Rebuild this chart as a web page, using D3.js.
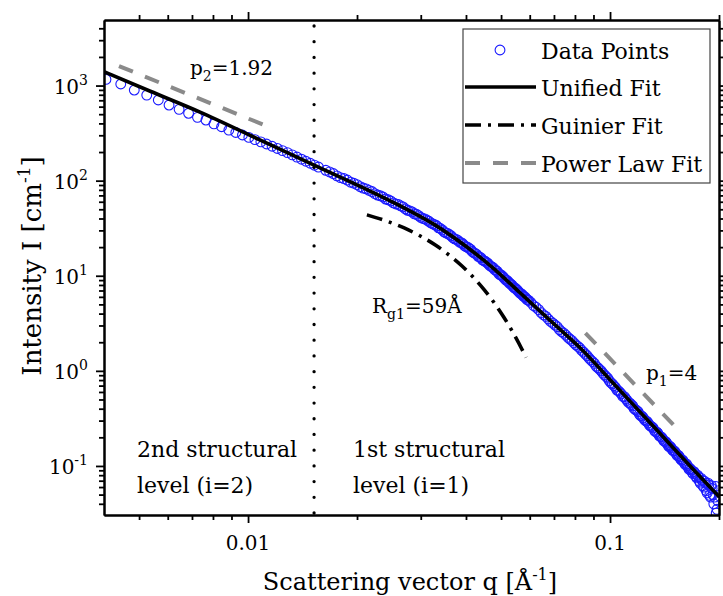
<!DOCTYPE html>
<html><head><meta charset="utf-8">
<script src="https://cdn.jsdelivr.net/npm/d3@7"></script>
<style>
body{margin:0;background:#fff}
svg{display:block}
text{font-family:'DejaVu Serif',serif;fill:#000}
</style>
</head><body>
<svg id="c" width="723" height="596"></svg>
<script>
// ---------- data ----------
const dataQ = [0.00405,0.00445,0.00485,0.00525,0.00565,0.00605,0.00645,0.00685,0.00725,0.00765,0.00805,0.00845,0.00885,0.00925,0.00965,0.01005,0.01045,0.01085,0.01125,0.01165,0.01205,0.01245,0.01285,0.01325,0.01365,0.01405,0.01445,0.01485,0.01525,0.01565,
0.0164,0.0172,0.018,0.0188,0.0196,0.0204,0.0212,0.022,0.0228,0.0236,0.0244,0.0252,0.026,0.0268,0.0276,0.0284,0.0292,0.03,0.0308,0.0316,0.0324,0.0332,0.034,0.0348,0.0356,0.0364,0.0372,0.038,0.0388,0.0396,0.0404,0.0412,0.042,0.0428,0.0436,0.0444,0.0452,0.046,0.0468,0.0476,0.0484,0.0492,0.05,0.0508,0.0516,0.0524,0.0532,0.054,0.0548,0.0556,0.0564,0.0572,0.058,0.0588,0.0596,
0.0168,0.0176,0.0184,0.0192,0.02,0.0208,0.0216,0.0224,0.0232,0.024,0.0248,0.0256,0.0264,0.0272,0.028,0.0288,0.0296,0.0304,0.0312,0.032,0.0328,0.0336,0.0344,0.0352,0.036,0.0368,0.0376,0.0384,0.0392,0.04,0.0408,0.0416,0.0424,0.0432,0.044,0.0448,0.0456,0.0464,0.0472,0.048,0.0488,0.0496,0.0504,0.0512,0.052,0.0528,0.0536,0.0544,0.0552,0.056,0.0568,0.0576,0.0584,0.0592,0.0604,
0.0615,0.0635,0.0655,0.0675,0.0695,0.0715,0.0735,0.0755,0.0775,0.0795,0.0815,0.0835,0.0855,0.0875,0.0895,0.0915,0.0935,0.0955,0.0975,0.0995,0.1015,0.1035,0.1055,0.1075,0.1095,0.1115,0.1135,0.1155,0.1175,0.1195,0.1215,0.1235,0.1255,0.1275,0.1295,0.1315,0.1335,0.1355,0.1375,0.1395,0.1415,0.1435,0.1455,0.1475,0.1495,0.1515,0.1535,0.1555,0.1575,0.1595,0.1615,0.1635,0.1655,0.1675,0.1695,0.1715,0.1735,0.1755,0.1775,0.1795,0.1815,0.1835,0.1855,0.1875,0.1895,0.1915,0.1935,0.1955,0.1975,0.1995,
0.0625,0.0645,0.0665,0.0685,0.0705,0.0725,0.0745,0.0765,0.0785,0.0805,0.0825,0.0845,0.0865,0.0885,0.0905,0.0925,0.0945,0.0965,0.0985,0.1005,0.1025,0.1045,0.1065,0.1085,0.1105,0.1125,0.1145,0.1165,0.1185,0.1205,0.1225,0.1245,0.1265,0.1285,0.1305,0.1325,0.1345,0.1365,0.1385,0.1405,0.1425,0.1445,0.1465,0.1485,0.1505,0.1525,0.1545,0.1565,0.1585,0.1605,0.1625,0.1645,0.1665,0.1685,0.1705,0.1725,0.1745,0.1765,0.1785,0.1805,0.1825,0.1845,0.1865,0.1885,0.1905,
0.1925,0.1945,0.1965,0.1985];
const dataI = [1161,1038,897,794,705,624,562,511,463,434,396,369,340,321,302,285,270,256,243,230,218,207,197,186.5,177,168,160,152.4,145.4,139,
128.5,118.8,107.6,101.5,93.9,86.4,81.9,76.8,70.6,67.3,62.9,58.4,56.3,52.9,48.8,46.9,44.3,41.1,39.6,37.4,35.0,33.5,31.4,29.0,27.9,26.3,24.4,23.5,22.3,20.7,20.0,18.9,17.5,16.8,15.8,14.7,14.2,13.5,12.6,12.1,11.4,10.6,10.2,9.63,9.00,8.65,8.18,7.66,7.38,6.99,6.56,6.34,6.04,5.68,5.50,
123.5,112.4,105.2,96.3,90.8,83.6,79.1,73.0,69.3,64.1,61.1,56.9,54.3,50.4,48.1,44.8,42.9,40.0,38.4,36.0,34.4,31.9,30.4,28.2,27.0,25.1,24.1,22.5,21.7,20.2,19.4,18.0,17.2,16.0,15.4,14.4,13.8,12.9,12.4,11.6,11.1,10.3,9.90,9.26,8.87,8.31,7.96,7.47,7.17,6.75,6.48,6.12,5.89,5.56,5.25,
4.86,4.40,3.88,3.51,3.17,2.91,2.58,2.37,2.16,1.97,1.81,1.64,1.50,1.36,1.25,1.12,1.04,0.948,0.872,0.79,0.728,0.672,0.618,0.571,0.535,0.489,0.457,0.428,0.392,0.372,0.338,0.322,0.298,0.283,0.262,0.251,0.229,0.221,0.204,0.195,0.181,0.174,0.160,0.156,0.144,0.139,0.128,0.125,0.115,0.112,0.103,0.101,0.092,0.091,0.083,0.084,0.075,0.077,0.066,0.071,0.060,0.066,0.052,0.063,0.047,0.058,0.040,0.061,0.035,0.055,
4.66,4.10,3.74,3.31,3.03,2.71,2.49,2.25,2.08,1.88,1.74,1.57,1.44,1.30,1.20,1.08,1.00,0.905,0.840,0.752,0.697,0.628,0.594,0.538,0.511,0.465,0.441,0.402,0.383,0.350,0.334,0.306,0.294,0.268,0.258,0.237,0.228,0.210,0.202,0.186,0.180,0.166,0.161,0.148,0.144,0.133,0.129,0.119,0.116,0.107,0.105,0.096,0.094,0.086,0.087,0.078,0.080,0.069,0.074,0.062,0.069,0.055,0.066,0.049,0.062,
0.050,0.047,0.032,0.043];

const unifiedQ = [0.004,0.00537,0.007369,0.0107,0.01522,0.02133,0.02632,0.03247,0.0403,0.04755,0.05649,0.06839,0.08277,0.1021,0.1292,0.1777,0.2005];
const unifiedI = [1396,871,526,272,145.9,80.4,54.3,35.1,19.95,12.05,6.58,3.37,1.738,0.741,0.2825,0.0764,0.0471];

const guinierQ = [0.0213,0.024,0.027,0.03,0.033,0.036,0.039,0.042,0.045,0.048,0.051,0.054,0.057,0.0586];
const guinierI = [43.7,37.9,31.8,26.0,20.9,16.4,12.67,9.55,7.06,5.11,3.62,2.51,1.71,1.38];

const power2Q = [0.0044,0.0118];
const power2I = [1603,349];
const power1Q = [0.0855,0.1564];
const power1I = [2.50,0.227];

const boundaryQ = [0.01522];

const xMajor = [0.01,0.1];
const xMajorLabels = ["0.01","0.1"];
const xMinor = [0.005,0.006,0.007,0.008,0.009,0.02,0.03,0.04,0.05,0.06,0.07,0.08,0.09,0.2];
const yMajor = [0.1,1,10,100,1000];
const yExponents = ["-1","0","1","2","3"];
const yMinor = [0.04,0.05,0.06,0.07,0.08,0.09,0.2,0.3,0.4,0.5,0.6,0.7,0.8,0.9,2,3,4,5,6,7,8,9,20,30,40,50,60,70,80,90,200,300,400,500,600,700,800,900,2000,3000,4000];

const legendItems = ["Data Points","Unified Fit","Guinier Fit","Power Law Fit"];

// ---------- layout ----------
const L=104, R=719, T=20, B=515;
const svg = d3.select("#c");
const x = d3.scaleLog().domain([0.004,0.2]).range([L,R]);
const y = d3.scaleLog().domain([0.0305,4890]).range([B,T]);

svg.append("defs").append("clipPath").attr("id","clip")
  .append("rect").attr("x",L).attr("y",T).attr("width",R-L).attr("height",B-T);

const plot = svg.append("g").attr("clip-path","url(#clip)");

// data points
plot.append("g").selectAll("circle").data(dataQ.map((q,i)=>[q,dataI[i]])).join("circle")
  .attr("cx",d=>x(d[0])).attr("cy",d=>y(d[1])).attr("r",4.9)
  .attr("fill","none").attr("stroke","#1a1aff").attr("stroke-width",1.1);

const line = d3.line().x(d=>x(d[0])).y(d=>y(d[1]));
const lineSmooth = d3.line().x(d=>x(d[0])).y(d=>y(d[1])).curve(d3.curveMonotoneX);

// power laws
plot.append("path").datum(power2Q.map((q,i)=>[q,power2I[i]])).attr("d",line)
  .attr("fill","none").attr("stroke","#8a8a8a").attr("stroke-width",4).attr("stroke-dasharray","15 13");
plot.append("path").datum(power1Q.map((q,i)=>[q,power1I[i]])).attr("d",line)
  .attr("fill","none").attr("stroke","#8a8a8a").attr("stroke-width",4).attr("stroke-dasharray","15 13");

// unified fit
plot.append("path").datum(unifiedQ.map((q,i)=>[q,unifiedI[i]])).attr("d",lineSmooth)
  .attr("fill","none").attr("stroke","#000").attr("stroke-width",3.6);

// guinier fit
plot.append("path").datum(guinierQ.map((q,i)=>[q,guinierI[i]])).attr("d",lineSmooth)
  .attr("fill","none").attr("stroke","#000").attr("stroke-width",3.6).attr("stroke-dasharray","16 7 3 7");

// boundary dotted line
svg.append("line").attr("x1",x(boundaryQ[0])).attr("x2",x(boundaryQ[0]))
  .attr("y1",26).attr("y2",B).attr("stroke","#000").attr("stroke-width",3.3)
  .attr("stroke-linecap","round").attr("stroke-dasharray","0.01 15.7");

// ---------- axes ----------
function styleAxis(g){
  g.select(".domain").attr("stroke-width",2);
  g.selectAll(".tick line").attr("stroke-width",1.8);
  g.selectAll(".tick text").remove();
}
svg.append("g").attr("transform",`translate(0,${B})`).call(d3.axisBottom(x).tickValues(xMajor).tickSize(8).tickSizeOuter(0).tickFormat("")).call(styleAxis);
svg.append("g").attr("transform",`translate(0,${B})`).call(d3.axisBottom(x).tickValues(xMinor).tickSize(5).tickSizeOuter(0).tickFormat("")).call(styleAxis);
svg.append("g").attr("transform",`translate(0,${T})`).call(d3.axisTop(x).tickValues(xMajor).tickSize(8).tickSizeOuter(0).tickFormat("")).call(styleAxis);
svg.append("g").attr("transform",`translate(0,${T})`).call(d3.axisTop(x).tickValues(xMinor).tickSize(5).tickSizeOuter(0).tickFormat("")).call(styleAxis);
svg.append("g").attr("transform",`translate(${L},0)`).call(d3.axisLeft(y).tickValues(yMajor).tickSize(8).tickSizeOuter(0).tickFormat("")).call(styleAxis);
svg.append("g").attr("transform",`translate(${L},0)`).call(d3.axisLeft(y).tickValues(yMinor).tickSize(5).tickSizeOuter(0).tickFormat("")).call(styleAxis);
svg.append("g").attr("transform",`translate(${R},0)`).call(d3.axisRight(y).tickValues(yMajor).tickSize(8).tickSizeOuter(0).tickFormat("")).call(styleAxis);
svg.append("g").attr("transform",`translate(${R},0)`).call(d3.axisRight(y).tickValues(yMinor).tickSize(5).tickSizeOuter(0).tickFormat("")).call(styleAxis);

// tick labels
svg.append("g").selectAll("text").data(xMajor).join("text")
  .attr("x",d=>x(d)).attr("y",550).attr("text-anchor","middle").attr("font-size",20)
  .text((d,i)=>xMajorLabels[i]);
const yl = svg.append("g").selectAll("text").data(yMajor).join("text")
  .attr("x",88).attr("y",d=>y(d)+8).attr("text-anchor","end").attr("font-size",20);
yl.append("tspan").text("10");
yl.append("tspan").attr("font-size",14).attr("dy",-9).text((d,i)=>yExponents[i]);

// axis titles
const xt = svg.append("text").attr("x",410).attr("y",590).attr("text-anchor","middle").attr("font-size",24);
xt.append("tspan").text("Scattering vector q [Å");
xt.append("tspan").attr("font-size",16).attr("dy",-10).text("-1");
xt.append("tspan").attr("dy",10).text("]");

const yt = svg.append("text").attr("transform","translate(41,266) rotate(-90)").attr("text-anchor","middle").attr("font-size",26);
yt.append("tspan").text("Intensity I [cm");
yt.append("tspan").attr("font-size",17).attr("dy",-11).text("-1");
yt.append("tspan").attr("dy",11).text("]");

// annotations
function subText(xp, yp, main, sub, rest, fs){
  const t = svg.append("text").attr("x",xp).attr("y",yp).attr("font-size",fs);
  t.append("tspan").text(main);
  t.append("tspan").attr("font-size",fs*0.7).attr("dy",6).text(sub);
  t.append("tspan").attr("dy",-6).text(rest);
}
subText(190,75,"p","2","=1.92",20);
subText(372,313,"R","g1","=59Å",20);
subText(646,380,"p","1","=4",20);

svg.append("text").attr("x",137).attr("y",457).attr("font-size",22).text("2nd structural");
svg.append("text").attr("x",137).attr("y",493).attr("font-size",22).text("level (i=2)");
svg.append("text").attr("x",353).attr("y",457).attr("font-size",22).text("1st structural");
svg.append("text").attr("x",353).attr("y",493).attr("font-size",22).text("level (i=1)");

// legend
const lg = svg.append("g");
lg.append("rect").attr("x",463).attr("y",29).attr("width",247).attr("height",154)
  .attr("fill","#fff").attr("stroke","#444").attr("stroke-width",1.2);
const rowY = [50,87,125,163];
lg.append("circle").attr("cx",500).attr("cy",rowY[0]).attr("r",4.9).attr("fill","none").attr("stroke","#1a1aff").attr("stroke-width",1.1);
lg.append("line").attr("x1",465).attr("x2",536).attr("y1",rowY[1]).attr("y2",rowY[1]).attr("stroke","#000").attr("stroke-width",3.6);
lg.append("line").attr("x1",465).attr("x2",536).attr("y1",rowY[2]).attr("y2",rowY[2]).attr("stroke","#000").attr("stroke-width",3.6).attr("stroke-dasharray","16 7 3 7");
lg.append("line").attr("x1",465).attr("x2",536).attr("y1",rowY[3]).attr("y2",rowY[3]).attr("stroke","#8a8a8a").attr("stroke-width",4).attr("stroke-dasharray","15 13");
lg.selectAll("text.li").data(legendItems).join("text").attr("class","li")
  .attr("x",541).attr("y",(d,i)=>rowY[i]+9).attr("font-size",22).text(d=>d);
</script>
</body></html>
